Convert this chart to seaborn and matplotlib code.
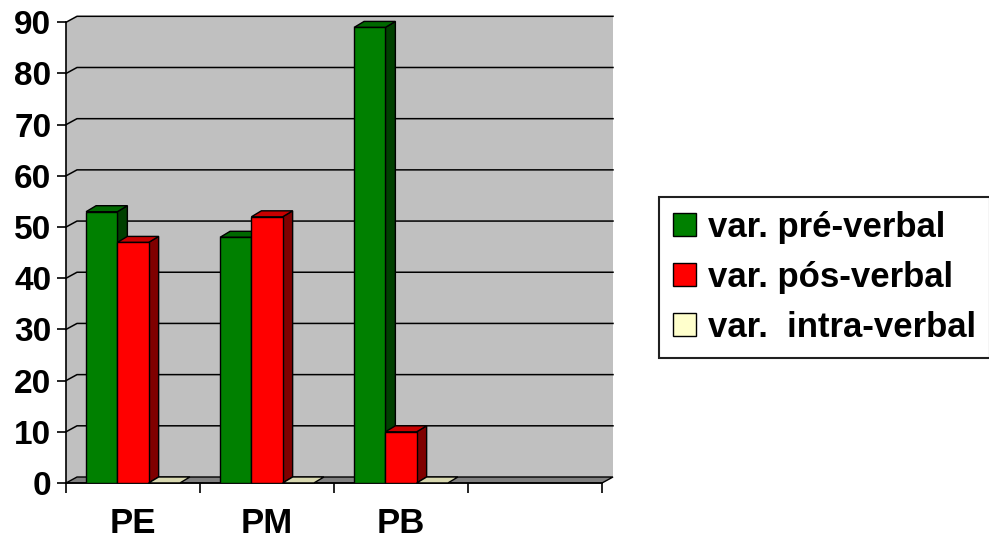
import numpy as np
import pandas as pd
import seaborn as sns
import matplotlib.pyplot as plt
from matplotlib.patches import Polygon, Patch
from matplotlib.lines import Line2D
from matplotlib.transforms import IdentityTransform

# dados
grupos = ["PE", "PM", "PB"]
series = ["var. pré-verbal", "var. pós-verbal", "var.  intra-verbal"]
pre_verbal = [53, 48, 89]
pos_verbal = [47, 52, 10]
intra_verbal = [0, 0, 0]
yticks = [0, 10, 20, 30, 40, 50, 60, 70, 80, 90]

cores = ["#008000", "#FF0000", "#FFFFCC"]
cores_lado = ["#004000", "#800000", "#99997A"]
cores_topo = ["#006800", "#C80000", "#D8D8B0"]

df = pd.DataFrame({
    "grupo": grupos * 3,
    "serie": np.repeat(series, len(grupos)),
    "valor": pre_verbal + pos_verbal + intra_verbal,
})

plt.rcParams["font.family"] = ["Liberation Sans", "DejaVu Sans"]
plt.rcParams["font.weight"] = "bold"

fig = plt.figure(figsize=(9.89, 5.41), dpi=100)
ax = fig.add_axes([66 / 989, 58 / 541, 536 / 989, 460.7 / 541])
ax.set_facecolor("none")

sns.barplot(data=df, x="grupo", y="valor", hue="serie", order=grupos,
            hue_order=series, palette=cores, saturation=1, width=0.7,
            edgecolor="black", linewidth=1, legend=False, ax=ax, zorder=5)

ax.set_xlim(-0.5, 3.5)
ax.set_ylim(0, 90)

ident = IdentityTransform()
wall_off = np.array([11.0, 6.0])
bar_off = np.array([10.0, 6.0])


def px(x, y):
    return ax.transData.transform((x, y))


# paredes (fundo + lateral)
flb, flt = px(-0.5, 0), px(-0.5, 90)
frb, frt = px(3.5, 0), px(3.5, 90)
wall = Polygon([flb, flt, flt + wall_off, frt + wall_off, frb + wall_off, frb],
               closed=True, fc="#C0C0C0", ec="none", transform=ident,
               zorder=0, clip_on=False)
ax.add_patch(wall)

# linhas de grade na parede do fundo
for yv in yticks[1:]:
    a, b = px(-0.5, yv), px(3.5, yv)
    pts = np.array([a, a + wall_off, b + wall_off])
    ax.add_line(Line2D(pts[:, 0], pts[:, 1], color="black", lw=1.1,
                       transform=ident, zorder=1, clip_on=False))

# piso
floor = Polygon([flb, frb, frb + wall_off, flb + wall_off], closed=True,
                fc="#808080", ec="black", lw=1, transform=ident, zorder=2,
                clip_on=False)
ax.add_patch(floor)

# faces laterais e superiores das colunas
todas = []
for i, cont in enumerate(ax.containers):
    for bar in cont.patches:
        todas.append((bar.get_x(), i, bar))
todas.sort(key=lambda t: t[0])
for rank, (x0, i, bar) in enumerate(todas):
    w, h = bar.get_width(), bar.get_height()
    if np.isnan(h):
        h = 0
    z = 5 + rank * 0.1
    bar.set_zorder(z + 0.05)
    bl, br = px(x0, 0), px(x0 + w, 0)
    tl, tr = px(x0, h), px(x0 + w, h)
    if h > 0:
        ax.add_patch(Polygon([br, tr, tr + bar_off, br + bar_off], closed=True,
                             fc=cores_lado[i], ec="black", lw=1,
                             transform=ident, zorder=z, clip_on=False))
    ax.add_patch(Polygon([tl, tr, tr + bar_off, tl + bar_off], closed=True,
                         fc=cores_topo[i], ec="black", lw=1,
                         transform=ident, zorder=z, clip_on=False))

for s in ["top", "right"]:
    ax.spines[s].set_visible(False)
for s in ["left", "bottom"]:
    ax.spines[s].set_color("black")
    ax.spines[s].set_linewidth(1.2)
    ax.spines[s].set_zorder(3)

ax.set_yticks(yticks)
ax.tick_params(axis="y", length=6.5, width=1.2, pad=4, labelsize=24,
               colors="black")
ax.set_xticks(range(len(grupos)))
ax.set_xticklabels(grupos)
ax.set_xticks([-0.5, 0.5, 1.5, 2.5, 3.5], minor=True)
ax.tick_params(axis="x", which="major", length=0, pad=17, labelsize=25)
ax.tick_params(axis="x", which="minor", length=7, width=1.2)
ax.set_xlabel("")
ax.set_ylabel("")

handles = [Patch(facecolor=c, edgecolor="black", label=s)
           for c, s in zip(cores, series)]
leg = fig.legend(handles=handles, loc="upper left",
                 bbox_to_anchor=(659 / 989, 1 - 197 / 541), fontsize=25,
                 frameon=True, fancybox=False, edgecolor="#202020",
                 framealpha=1, handlelength=0.66, handleheight=0.66,
                 handletextpad=0.35, labelspacing=0.49, borderpad=0.4,
                 borderaxespad=0)
leg.get_frame().set_linewidth(1.5)

fig.savefig("out.png", dpi=100)
